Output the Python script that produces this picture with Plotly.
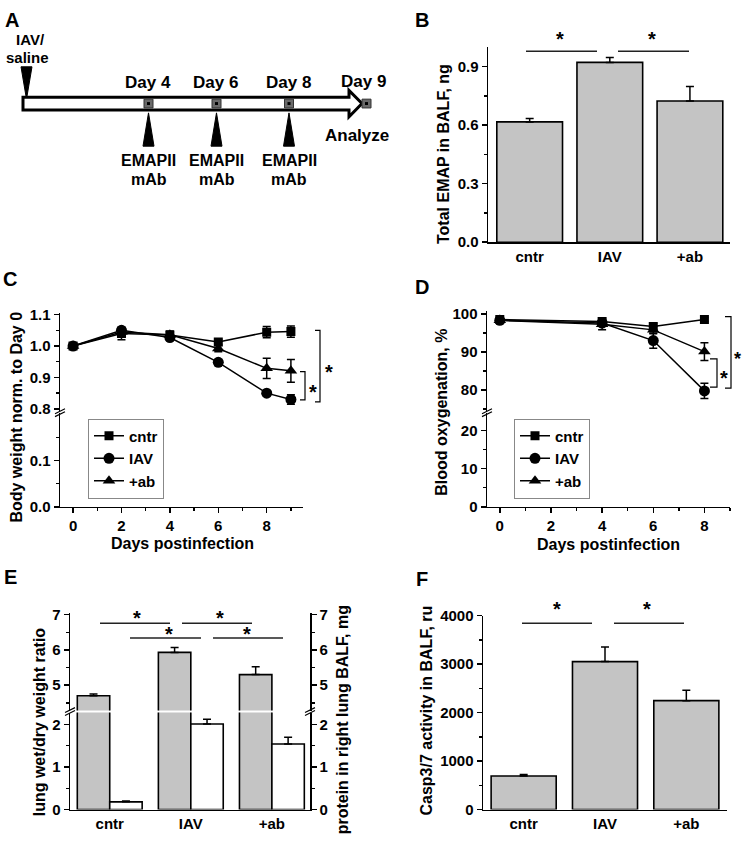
import plotly.graph_objects as go

W, H = 744, 843
FONT = "Liberation Sans, Arial, sans-serif"


def X(p):
    return p / W


def Y(p):
    return 1 - p / H


# ---------------- data ----------------
groups = ["cntr", "IAV", "+ab"]

# B: total EMAP in BALF (ng)
emap_vals = [0.617, 0.922, 0.724]
emap_err = [0.018, 0.025, 0.075]

# C: body weight normalised to day 0
days_c = [0, 2, 4, 6, 8, 9]
bw_cntr = [1.000, 1.040, 1.035, 1.013, 1.044, 1.046]
bw_cntr_err = [0.004, 0.020, 0.010, 0.008, 0.018, 0.018]
bw_iav = [1.000, 1.050, 1.027, 0.948, 0.850, 0.830]
bw_iav_err = [0.004, 0.008, 0.008, 0.008, 0.008, 0.015]
bw_ab = [1.000, 1.045, 1.036, 0.992, 0.929, 0.921]
bw_ab_err = [0.004, 0.010, 0.012, 0.010, 0.032, 0.036]

# D: blood oxygenation (%)
days_d = [0, 4, 6, 8]
ox_cntr = [98.5, 98.0, 96.7, 98.5]
ox_cntr_err = [0.5, 0.5, 0.8, 0.5]
ox_iav = [98.3, 97.6, 93.0, 79.8]
ox_iav_err = [0.5, 0.8, 2.0, 2.0]
ox_ab = [98.3, 97.3, 95.8, 90.1]
ox_ab_err = [0.5, 1.5, 1.0, 2.3]

# E: lung wet/dry ratio and protein in BALF
wd_vals = [4.70, 5.93, 5.30]
wd_err = [0.05, 0.14, 0.22]
prot_vals = [0.18, 2.01, 1.54]
prot_err = [0.02, 0.11, 0.16]

# F: Casp3/7 activity
casp_vals = [690, 3050, 2245]
casp_err = [30, 300, 215]

series_names = ["cntr", "IAV", "+ab"]
series_symbols = ["square", "circle", "triangle-up"]

timeline_days = ["Day 4", "Day 6", "Day 8", "Day 9"]
treatment_lines = ["EMAPII", "mAb"]

BAR_GRAY = "#c4c4c4"
TS = 16
TF = dict(family=FONT, size=15, color="black", weight="bold")

fig = go.Figure()


def err(arr, up_only=False):
    d = dict(type="data", array=arr, color="black", thickness=1.5, width=4, visible=True)
    if up_only:
        d["symmetric"] = False
        d["arrayminus"] = [0] * len(arr)
    return d


def ghost(x, y, xa, ya):
    # invisible trace so that an axis segment without visible marks is still drawn
    fig.add_trace(go.Scatter(x=x, y=y, mode="markers", marker=dict(opacity=0, size=1), hoverinfo="skip",
                             showlegend=False, xaxis=xa, yaxis=ya))


# ---- B ----
fig.add_trace(go.Bar(x=groups, y=emap_vals, width=0.82, marker=dict(color=BAR_GRAY, line=dict(color="black", width=1.6)),
                     error_y=err(emap_err, True), xaxis="x", yaxis="y", showlegend=False))

# ---- C ----
c_data = [(bw_cntr, bw_cntr_err), (bw_iav, bw_iav_err), (bw_ab, bw_ab_err)]
sizes = [9, 11, 11]
ghost(days_c, bw_cntr, "x2", "y2")
for (vals, e), name, sym, sz in zip(c_data, series_names, series_symbols, sizes):
    fig.add_trace(go.Scatter(x=days_c, y=vals, mode="lines+markers", name=name,
                             line=dict(color="black", width=1.5),
                             marker=dict(symbol=sym, size=sz, color="black"),
                             error_y=err(e), xaxis="x2", yaxis="y3", legend="legend"))

# ---- D ----
d_data = [(ox_cntr, ox_cntr_err), (ox_iav, ox_iav_err), (ox_ab, ox_ab_err)]
ghost(days_d, ox_cntr, "x3", "y4")
for (vals, e), name, sym, sz in zip(d_data, series_names, series_symbols, sizes):
    fig.add_trace(go.Scatter(x=days_d, y=vals, mode="lines+markers", name=name,
                             line=dict(color="black", width=1.5),
                             marker=dict(symbol=sym, size=sz, color="black"),
                             error_y=err(e), xaxis="x3", yaxis="y5", legend="legend2"))

# ---- E ----
bar_line = dict(color="black", width=1.6)
fig.add_trace(go.Bar(x=groups, y=wd_vals, width=0.4, offset=-0.4, marker=dict(color=BAR_GRAY, line=bar_line),
                     xaxis="x4", yaxis="y6", showlegend=False))
fig.add_trace(go.Bar(x=groups, y=wd_vals, width=0.4, offset=-0.4, marker=dict(color=BAR_GRAY, line=bar_line),
                     error_y=err(wd_err, True), xaxis="x4", yaxis="y7", showlegend=False))
fig.add_trace(go.Bar(x=groups, y=prot_vals, width=0.4, offset=0.0, marker=dict(color="white", line=bar_line),
                     error_y=err(prot_err, True), xaxis="x4", yaxis="y8", showlegend=False))
ghost(groups, wd_vals, "x4", "y9")

# ---- F ----
fig.add_trace(go.Bar(x=groups, y=casp_vals, width=0.8, marker=dict(color=BAR_GRAY, line=bar_line),
                     error_y=err(casp_err, True), xaxis="x5", yaxis="y10", showlegend=False))

# ---------------- axes ----------------
base = dict(showline=True, linecolor="black", linewidth=1.5, ticks="outside", ticklen=5, tickwidth=1.5,
            tickcolor="black", showgrid=False, zeroline=False, tickfont=TF, fixedrange=True)


def minor(vals):
    return dict(tickvals=vals, ticks="outside", ticklen=3, tickwidth=1.5, tickcolor="black", showgrid=False)


def xcat(dom, rng, anchor):
    d = dict(base)
    d.update(domain=[X(dom[0]), X(dom[1])], range=rng, anchor=anchor, type="category", ticks="")
    return d


def xlin(dom, rng, anchor, tv, mv):
    d = dict(base)
    d.update(domain=[X(dom[0]), X(dom[1])], range=rng, anchor=anchor, tickvals=tv, minor=minor(mv))
    return d


def ylin(dom, rng, anchor, tv, mv, fmt=None, **kw):
    d = dict(base)
    d.update(domain=[Y(dom[0]), Y(dom[1])], range=rng, anchor=anchor, tickvals=tv, minor=minor(mv))
    if fmt:
        d["tickformat"] = fmt
    d.update(kw)
    return d


lay = dict(
    width=W, height=H, margin=dict(l=0, r=0, t=0, b=0), paper_bgcolor="white", plot_bgcolor="rgba(0,0,0,0)",
    font=dict(family=FONT, color="black"), barmode="overlay",
    # B
    xaxis=xcat((488, 730), [-0.52, 2.5], "y"),
    yaxis=ylin((238, 39), [0, 1.0], "x", [0, 0.3, 0.6, 0.9], [0.15, 0.45, 0.75], ".1f"),
    # C
    xaxis2=xlin((60, 303), [-0.54, 9.5], "y2", [0, 2, 4, 6, 8], [1, 3, 5, 7, 9]),
    yaxis2=ylin((508, 412), [0, 0.204], "x2", [0, 0.1], [0.05, 0.15], ".1f"),
    yaxis3=ylin((410, 310), [0.794, 1.106], "x2", [0.8, 0.9, 1.0, 1.1], [0.85, 0.95, 1.05], ".1f"),
    # D
    xaxis3=xlin((487, 730), [-0.5, 9.0], "y4", [0, 2, 4, 6, 8], [1, 3, 5, 7, 9]),
    yaxis4=ylin((508, 412), [0, 24.6], "x3", [0, 10, 20], [5, 15]),
    yaxis5=ylin((410, 308), [74.6, 100.8], "x3", [80, 90, 100], [75, 85, 95]),
    # E
    xaxis4=xcat((70, 310), [-0.49, 2.47], "y6"),
    yaxis6=ylin((817, 718), [0, 2.28], "x4", [0, 1, 2], [0.5, 1.5]),
    yaxis7=ylin((716, 616), [4.28, 7.06], "x4", [5, 6, 7], [4.5, 5.5, 6.5]),
    yaxis8=ylin((817, 718), [0, 2.28], "x4", [0, 1, 2], [0.5, 1.5], side="right", overlaying="y6"),
    yaxis9=ylin((716, 616), [4.28, 7.06], "x4", [5, 6, 7], [4.5, 5.5, 6.5], side="right", overlaying="y7"),
    # F
    xaxis5=xcat((483, 727), [-0.5, 2.5], "y10"),
    yaxis10=ylin((817, 619), [0, 4000], "x5", [0, 1000, 2000, 3000, 4000], [500, 1500, 2500, 3500]),
)

leg = dict(xanchor="left", yanchor="top", bordercolor="#888", borderwidth=1, bgcolor="white",
           font=dict(family=FONT, size=15, color="black", weight="bold"), itemwidth=30, tracegroupgap=0)
lay["legend"] = dict(leg, x=X(88), y=Y(418))
lay["legend2"] = dict(leg, x=X(514), y=Y(418))
fig.update_layout(**lay)

# ---------------- annotations & shapes ----------------
anns = []
shapes = []


def ann(text, x, y, size=TS, angle=0, xa="center", ya="middle"):
    anns.append(dict(text=text, x=X(x), y=Y(y), xref="paper", yref="paper", showarrow=False,
                     font=dict(family=FONT, size=size, color="black", weight="bold"),
                     textangle=angle, xanchor=xa, yanchor=ya))


def line(x0, y0, x1, y1, w=1.5, c="black"):
    shapes.append(dict(type="line", xref="paper", yref="paper", x0=X(x0), y0=Y(y0), x1=X(x1), y1=Y(y1),
                       line=dict(color=c, width=w)))


def path(pts, fill=None, w=1.5, close=True):
    s = "M " + " L ".join(f"{X(a):.5f},{Y(b):.5f}" for a, b in pts) + (" Z" if close else "")
    shapes.append(dict(type="path", xref="paper", yref="paper", path=s,
                       fillcolor=fill if fill else "rgba(0,0,0,0)", line=dict(color="black", width=w)))


def rect(x0, y0, x1, y1, fill, lc, w=1):
    shapes.append(dict(type="rect", xref="paper", yref="paper", x0=X(x0), y0=Y(y0), x1=X(x1), y1=Y(y1),
                       fillcolor=fill, line=dict(color=lc, width=w)))


# panel letters
for t, x, y in [("A", 12, 11), ("B", 422, 11), ("C", 10, 276), ("D", 422, 284), ("E", 10, 580), ("F", 422, 582)]:
    ann(t, x, y, size=20)

# ---- A: timeline schematic ----
ann("IAV/", 30, 31, size=15)
ann("saline", 27, 50, size=15)
path([(21, 59), (32, 59), (26.5, 92)], fill="black", w=1)
path([(23, 90), (349, 90), (349, 83), (362, 96.5), (349, 110), (349, 103), (23, 103)], fill="white", w=3)
marks_x = [148.5, 216.5, 289, 366.5]
for lbl, mx in zip(timeline_days, marks_x):
    rect(mx - 4.5, 92, mx + 4.5, 101, "#6a6a6a", "#333", 1)
    rect(mx - 1.5, 95, mx + 1.5, 98, "black", "black", 0)
    ann(lbl, mx - 1 if lbl != "Day 9" else 363, 75 if lbl != "Day 9" else 74, size=17)
for mx in marks_x[:3]:
    path([(mx, 106), (mx - 5.5, 140), (mx + 5.5, 140)], fill="black", w=1)
    ann(treatment_lines[0], mx, 155, size=16)
    ann(treatment_lines[1], mx, 174, size=16)
ann("Analyze", 357, 129, size=17)

# ---- B ----
ann("Total EMAP in BALF, ng", 443, 148, angle=-90)
line(526, 43, 597, 43, 1.5, "#222")
line(618, 43, 689, 43, 1.5, "#222")
ann("*", 560, 31, size=20)
ann("*", 652, 31, size=20)

# ---- C ----
ann("Body weight norm. to Day 0", 17, 417, angle=-90)
ann("Days postinfection", 182, 545)
path([(315, 328), (320, 328), (320, 401), (315, 401)], close=False, w=1.2)
path([(300, 370), (305, 370), (305, 399), (300, 399)], close=False, w=1.2)
ann("*", 329, 370, size=20)
ann("*", 313, 391, size=20)
for bx, by in [(60, 411)]:
    line(bx - 5, by + 2, bx + 5, by - 3, 1.2)
    line(bx - 5, by + 5, bx + 5, by, 1.2)

# ---- D ----
ann("Blood oxygenation, %", 442, 412, angle=-90)
ann("Days postinfection", 608, 547)
path([(725, 314), (731, 314), (731, 387), (725, 387)], close=False, w=1.2)
path([(710, 357), (717, 357), (717, 386), (710, 386)], close=False, w=1.2)
ann("*", 737, 357, size=18)
ann("*", 724, 377, size=20)
for bx, by in [(487, 411)]:
    line(bx - 5, by + 2, bx + 5, by - 3, 1.2)
    line(bx - 5, by + 5, bx + 5, by, 1.2)

# ---- E ----
ann("lung wet/dry weight ratio", 39, 728, angle=-90)
ann("protein in right lung BALF, mg", 342, 726, angle=-90)
line(100, 627, 170, 627, 1.5, "#222")
line(182, 627, 252, 627, 1.5, "#222")
line(130, 642, 201, 642, 1.5, "#222")
line(213, 642, 283, 642, 1.5, "#222")
ann("*", 137, 622, size=20)
ann("*", 220, 622, size=20)
ann("*", 169, 638, size=20)
ann("*", 247, 638, size=20)
for bx, by in [(70, 717), (310, 717)]:
    line(bx - 5, by + 1, bx + 5, by - 4, 1.2)
    line(bx - 5, by + 4, bx + 5, by - 1, 1.2)

# ---- F ----
ann("Casp3/7 activity in BALF, ru", 427, 716, angle=-90)
line(522, 627, 592, 627, 1.5, "#222")
line(614, 627, 684, 627, 1.5, "#222")
ann("*", 557, 612, size=20)
ann("*", 647, 612, size=20)

fig.update_layout(annotations=anns, shapes=shapes)
fig.write_html("out.html", config={"displayModeBar": False, "staticPlot": True},
               post_script="document.body.style.margin='0';document.body.style.padding='0';"
                           "document.body.style.overflow='hidden';")
